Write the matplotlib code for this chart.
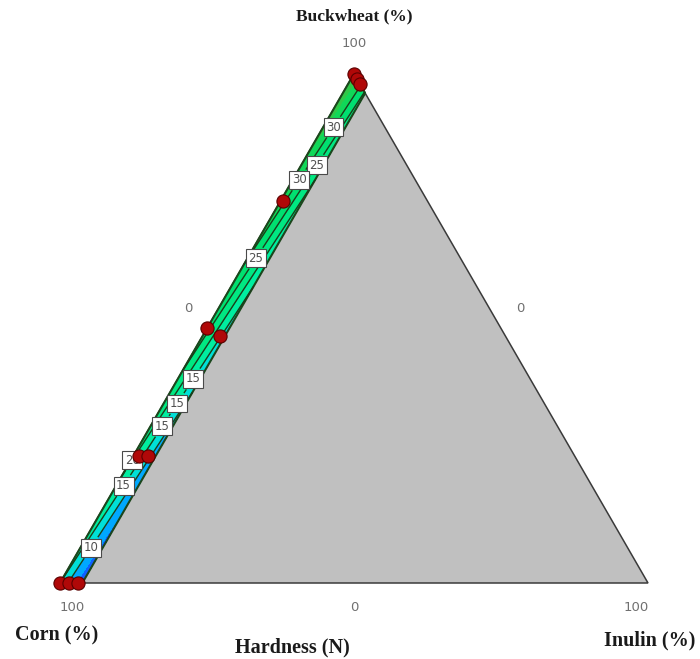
import numpy as np
import matplotlib.pyplot as plt
from matplotlib.colors import ListedColormap, BoundaryNorm
from matplotlib.patches import Polygon

# --- Design points (Buckwheat %, Inulin %); corn makes up the rest ---
buckwheat_pts = [100, 99, 98, 75, 50, 48.5, 25, 25, 0, 0, 0]
inulin_pts = [0, 1, 2, 0.5, 0, 3, 1, 2.5, 0, 1.5, 3]

# --- Linear mixture model for hardness (N) ---
coef_corn = 15.0
coef_buckwheat = 39.0
coef_inulin = -353.0
INULIN_MAX = 3.8  # upper limit of inulin in the design region (%)

contour_levels = [10, 15, 20, 25, 30]
fill_levels = [0, 5, 10, 15, 20, 25, 30, 35, 40]
fill_colors = ['#1060ff', '#00a8ff', '#00e0d8', '#00eea0', '#00e882',
               '#00e070', '#10d858', '#30c848']

# contour label spots in (buckwheat %, inulin %) and the level each one marks
label_level = [30, 25, 30, 25, 15, 15, 15, 20, 15, 10]
label_bw = [90, 83, 79, 63.5, 40.7, 35.8, 30.7, 24.2, 19.6, 6.7]
label_in = [0.9, 0.9, 1.35, 1.95, 1.45, 1.3, 2.15, 0.1, 0.4, 2.25]

SQ3 = np.sqrt(3) / 2


def tern_xy(bw, inu):
    # corn at (0,0), inulin at (1,0), buckwheat at the apex
    bw = np.asarray(bw, float) / 100.0
    inu = np.asarray(inu, float) / 100.0
    return inu + bw / 2, bw * SQ3


def hardness(bw, inu):
    corn = 1 - bw - inu
    return coef_corn * corn + coef_buckwheat * bw + coef_inulin * inu


fig = plt.figure(figsize=(7, 6.59), dpi=100)
ax = fig.add_axes([0, 0, 1, 1])
ax.set_xlim(-60 / 588, 640 / 588)
ax.set_ylim(-76 / 588, 583 / 588)
ax.axis('off')

# grey triangle
tri = np.array([[0, 0], [1, 0], [0.5, SQ3]])
ax.add_patch(Polygon(tri, closed=True, facecolor='#c0c0c0',
                     edgecolor='#3a3a3a', lw=1.1, zorder=1))

# design region: thin strip along the corn-buckwheat edge
b = np.linspace(0, 1, 400)
u = np.linspace(0, 1, 60)
B, U = np.meshgrid(b, u)
I = U * np.minimum(INULIN_MAX / 100, 1 - B)
X = I + B / 2
Y = B * SQ3
Z = hardness(B, I)

cmap = ListedColormap(fill_colors)
norm = BoundaryNorm(fill_levels, cmap.N)
ax.contourf(X, Y, Z, levels=fill_levels, cmap=cmap, norm=norm, zorder=2)

# outline of the region
edge_i = np.minimum(INULIN_MAX / 100, 1 - b)
ox = np.concatenate([b / 2, (edge_i + b / 2)[::-1]])
oy = np.concatenate([b * SQ3, (b * SQ3)[::-1]])
ax.plot(np.append(ox, ox[0]), np.append(oy, oy[0]), color='#1c461c',
        lw=1.5, zorder=3)

# contour lines with boxed labels, one set per level
lx, ly = tern_xy(label_bw, label_in)
for lev in contour_levels:
    cs = ax.contour(X, Y, Z, levels=[lev], colors='#1b3d1b',
                    linewidths=1.0, zorder=3)
    spots = [(x, y) for x, y, l in zip(lx, ly, label_level) if l == lev]
    if not spots:
        continue
    ax.clabel(cs, manual=spots, fmt='%d', fontsize=8.5, inline=True,
              colors='#505050')
    for t in cs.labelTexts:
        t.set_rotation(0)
        t.set_zorder(4)
        t.set_bbox(dict(facecolor='white', edgecolor='#4a4a4a', lw=0.8,
                        pad=1.8))

# design points
px, py = tern_xy(buckwheat_pts, inulin_pts)
ax.scatter(px, py, s=90, c='#b00808', edgecolors='#5a0000',
           linewidths=0.8, zorder=6, clip_on=False)

# axis values
tick_kw = dict(fontsize=9.5, color='#707070', ha='center', va='center')
ax.text(0.5, SQ3 + 0.052, '100', **tick_kw)
ax.text(0.218, 0.466, '0', **tick_kw)
ax.text(0.782, 0.466, '0', **tick_kw)
ax.text(0.02, -0.041, '100', **tick_kw)
ax.text(0.5, -0.041, '0', **tick_kw)
ax.text(0.980, -0.041, '100', **tick_kw)

# component and response titles
title_kw = dict(fontweight='bold', family='Liberation Serif',
                color='#1a1a1a', ha='center', va='center')
ax.text(0.5, 0.963, 'Buckwheat (%)', fontsize=12.5, **title_kw)
ax.text(-0.005, -0.090, 'Corn (%)', fontsize=14.5, **title_kw)
ax.text(0.395, -0.110, 'Hardness (N)', fontsize=14.5, **title_kw)
ax.text(1.003, -0.097, 'Inulin (%)', fontsize=14.5, **title_kw)

fig.savefig('out.png', dpi=100)
